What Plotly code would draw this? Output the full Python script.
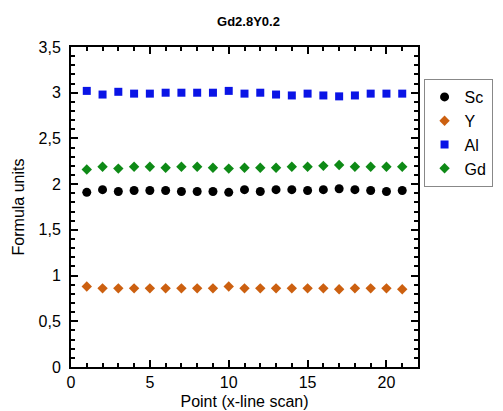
import plotly.graph_objects as go

points = list(range(1, 22))
sc = [1.91, 1.94, 1.92, 1.93, 1.93, 1.93, 1.92, 1.92, 1.92, 1.91, 1.94, 1.92, 1.94, 1.94, 1.93, 1.94, 1.95, 1.94, 1.93, 1.92, 1.93]
y_el = [0.88, 0.86, 0.86, 0.86, 0.86, 0.86, 0.86, 0.86, 0.86, 0.88, 0.86, 0.86, 0.86, 0.86, 0.86, 0.86, 0.85, 0.86, 0.86, 0.86, 0.85]
al = [3.02, 2.98, 3.01, 2.99, 2.99, 3.00, 3.00, 3.00, 3.00, 3.02, 2.99, 3.00, 2.98, 2.97, 2.99, 2.97, 2.96, 2.97, 2.99, 2.99, 2.99]
gd = [2.16, 2.19, 2.17, 2.19, 2.19, 2.18, 2.19, 2.19, 2.18, 2.17, 2.18, 2.18, 2.18, 2.19, 2.19, 2.20, 2.21, 2.19, 2.19, 2.19, 2.19]

series = [
    ("Sc", sc, "circle", "#000000", 9),
    ("Y", y_el, "diamond", "#CC6010", 8),
    ("Al", al, "square", "#0A14E6", 8),
    ("Gd", gd, "diamond", "#0E8A16", 8),
]

fig = go.Figure()
for i, (name, vals, sym, col, sz) in enumerate(series):
    fig.add_trace(go.Scatter(
        x=points, y=vals, mode="markers", name=name,
        marker=dict(symbol=sym, color=col, size=sz, line=dict(width=0)),
        legendgroup=str(i),
    ))

axis_common = dict(
    showline=True, linecolor="black", linewidth=2, mirror="ticks",
    ticks="inside", ticklen=7, tickwidth=2, tickcolor="black",
    showgrid=False, zeroline=False, automargin=False,
    tickfont=dict(family="Liberation Sans, Arial", size=16, color="black"),
)

fig.update_xaxes(range=[0, 22], dtick=5, tick0=0,
                 minor=dict(dtick=1, ticks="inside", ticklen=4, tickwidth=2, tickcolor="black"),
                 title=dict(text="Point (x-line scan)", font=dict(family="Liberation Sans, Arial", size=16, color="black"), standoff=6),
                 **axis_common)
fig.update_yaxes(range=[0, 3.5], dtick=0.5, tick0=0, ticklabelstandoff=5,
                 minor=dict(dtick=0.1, ticks="inside", ticklen=4, tickwidth=2, tickcolor="black"),
                 title=dict(text="Formula units", font=dict(family="Liberation Sans, Arial", size=16, color="black"), standoff=10),
                 **axis_common)

fig.update_layout(
    width=503, height=411,
    margin=dict(l=71, r=85, t=47, b=44, autoexpand=False),
    paper_bgcolor="white", plot_bgcolor="white",
    separators=", ",
    title=dict(text="<b>Gd2.8Y0.2</b>", x=0.494, xanchor="center", y=0.949, yanchor="middle",
               font=dict(family="Liberation Sans, Arial", size=13, color="black")),
    legend=dict(
        x=1.016, y=0.9, xanchor="left", yanchor="top",
        bordercolor="#888888", borderwidth=1, bgcolor="white",
        font=dict(family="Liberation Sans, Arial", size=16, color="black"),
        tracegroupgap=0, traceorder="grouped",
    ),
)

fig.write_html("out.html", config={"displayModeBar": False},
               post_script="document.body.style.margin='0';document.body.style.overflow='hidden';")
